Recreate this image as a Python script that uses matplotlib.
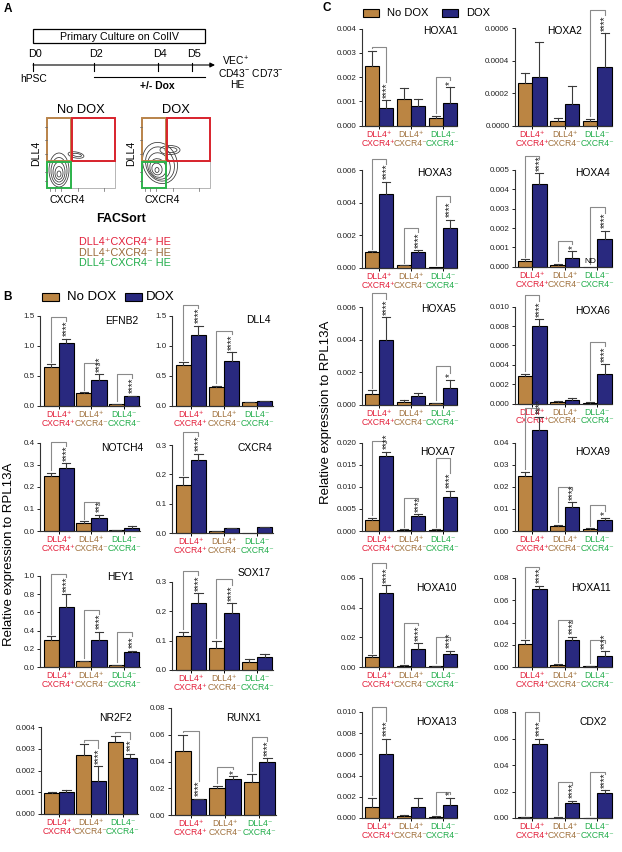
import numpy as np
import matplotlib
matplotlib.use('Agg')
import matplotlib.pyplot as plt
from matplotlib.patches import Rectangle, Ellipse

plt.rcParams['font.family'] = ['Liberation Sans', 'DejaVu Sans']
plt.rcParams['mathtext.fontset'] = 'custom'
plt.rcParams['mathtext.rm'] = 'Liberation Sans'
plt.rcParams['mathtext.it'] = 'Liberation Sans:italic'
plt.rcParams['mathtext.bf'] = 'Liberation Sans:bold'

# ---------------- data ----------------
groups = ['DLL4\u207a\nCXCR4\u207a', 'DLL4\u207a\nCXCR4\u207b', 'DLL4\u207b\nCXCR4\u207b']
series = ['No DOX', 'DOX']

efnb2_nodox = [0.655, 0.21, 0.03];   efnb2_dox = [1.045, 0.44, 0.16]
efnb2_nodox_sem = [0.045, 0.02, 0.005]; efnb2_dox_sem = [0.075, 0.09, 0.012]
efnb2_sig = [(0, 1.48, '****'), (1, 0.72, '****'), (2, 0.53, '****')]
efnb2_ticks = ['0.0', '0.5', '1.0', '1.5']

dll4_nodox = [0.69, 0.31, 0.06];   dll4_dox = [1.18, 0.75, 0.08]
dll4_nodox_sem = [0.04, 0.03, 0.005]; dll4_dox_sem = [0.16, 0.15, 0.005]
dll4_sig = [(0, 1.69, '****'), (1, 1.25, '****')]
dll4_ticks = ['0.0', '0.5', '1.0', '1.5']

notch4_nodox = [0.25, 0.038, 0.005];   notch4_dox = [0.285, 0.061, 0.015]
notch4_nodox_sem = [0.015, 0.006, 0.001]; notch4_dox_sem = [0.022, 0.012, 0.006]
notch4_sig = [(0, 0.405, '****'), (1, 0.13, '***')]
notch4_ticks = ['0.0', '0.1', '0.2', '0.3', '0.4']

cxcr4_nodox = [0.165, 0.006, 0.0];   cxcr4_dox = [0.248, 0.017, 0.02]
cxcr4_nodox_sem = [0.025, 0.002, 0.0]; cxcr4_dox_sem = [0.022, 0.001, 0.002]
cxcr4_sig = [(0, 0.345, '****')]
cxcr4_ticks = ['0.0', '0.1', '0.2', '0.3']

hey1_nodox = [0.30, 0.065, 0.02];   hey1_dox = [0.66, 0.30, 0.16]
hey1_nodox_sem = [0.04, 0.005, 0.003]; hey1_dox_sem = [0.14, 0.09, 0.02]
hey1_sig = [(0, 1.02, '****'), (1, 0.63, '****'), (2, 0.38, '***')]
hey1_ticks = ['0.0', '0.2', '0.4', '0.6', '0.8', '1.0']

sox17_nodox = [0.115, 0.075, 0.026];   sox17_dox = [0.228, 0.194, 0.044]
sox17_nodox_sem = [0.015, 0.025, 0.01]; sox17_dox_sem = [0.034, 0.034, 0.009]
sox17_sig = [(0, 0.336, '****'), (1, 0.31, '****')]
sox17_ticks = ['0.0', '0.1', '0.2', '0.3']

nr2f2_nodox = [0.00097, 0.00273, 0.0033];   nr2f2_dox = [0.00103, 0.0015, 0.00258]
nr2f2_nodox_sem = [0.00004, 0.00047, 0.0003]; nr2f2_dox_sem = [0.00009, 0.0007, 0.00019]
nr2f2_sig = [(1, 0.0034, '****'), (2, 0.00375, '***')]
nr2f2_ticks = ['0.000', '0.001', '0.002', '0.003', '0.004']

runx1_nodox = [0.048, 0.0205, 0.0245];   runx1_dox = [0.0118, 0.0268, 0.0393]
runx1_nodox_sem = [0.012, 0.0015, 0.0065]; runx1_dox_sem = [0.0004, 0.002, 0.003]
runx1_sig = [(0, 0.063, '****'), (1, 0.036, '*'), (2, 0.058, '****')]
runx1_ticks = ['0.00', '0.02', '0.04', '0.06', '0.08']

hoxa1_nodox = [0.00247, 0.00112, 0.00031];   hoxa1_dox = [0.00075, 0.0008, 0.00092]
hoxa1_nodox_sem = [0.00063, 0.00043, 0.00009]; hoxa1_dox_sem = [0.0003, 0.0003, 0.00066]
hoxa1_sig = [(0, 0.00325, '****'), (2, 0.002, '*')]
hoxa1_ticks = ['0.000', '0.001', '0.002', '0.003', '0.004']

hoxa2_nodox = [0.000266, 0.000033, 0.000033];   hoxa2_dox = [0.0003, 0.000137, 0.000364]
hoxa2_nodox_sem = [0.00006, 0.000014, 0.000012]; hoxa2_dox_sem = [0.000218, 0.00011, 0.000205]
hoxa2_sig = [(2, 0.00071, '****')]
hoxa2_ticks = ['0.0000', '0.0002', '0.0004', '0.0006']

hoxa3_nodox = [0.00098, 0.00014, 0.00002];   hoxa3_dox = [0.00451, 0.00098, 0.00245]
hoxa3_nodox_sem = [0.00004, 0.00001, 0.0]; hoxa3_dox_sem = [0.00076, 0.0001, 0.0005]
hoxa3_sig = [(0, 0.0067, '****'), (1, 0.00245, '****'), (2, 0.0044, '****')]
hoxa3_ticks = ['0.000', '0.002', '0.004', '0.006']

hoxa4_nodox = [0.00031, 0.00009, np.nan];   hoxa4_dox = [0.0043, 0.00047, 0.00143]
hoxa4_nodox_sem = [0.00007, 0.00005, 0.0]; hoxa4_dox_sem = [0.00054, 0.00034, 0.00043]
hoxa4_sig = [(0, 0.0057, '****'), (1, 0.00134, '*'), (2, 0.00307, '****')]
hoxa4_ticks = ['0.000', '0.001', '0.002', '0.003', '0.004', '0.005']

hoxa5_nodox = [0.0007, 0.0002, 0.0001];   hoxa5_dox = [0.004, 0.00055, 0.00104]
hoxa5_nodox_sem = [0.0002, 0.0001, 0.00005]; hoxa5_dox_sem = [0.0014, 0.0002, 0.0005]
hoxa5_sig = [(0, 0.0069, '****'), (2, 0.0024, '*')]
hoxa5_ticks = ['0.000', '0.002', '0.004', '0.006']

hoxa6_nodox = [0.0028, 0.0002, 0.0001];   hoxa6_dox = [0.008, 0.0004, 0.00305]
hoxa6_nodox_sem = [0.0003, 0.0001, 0.00005]; hoxa6_dox_sem = [0.0007, 0.0002, 0.001]
hoxa6_sig = [(0, 0.0112, '****'), (2, 0.0064, '****')]
hoxa6_ticks = ['0.000', '0.002', '0.004', '0.006', '0.008', '0.010']

hoxa7_nodox = [0.0025, 0.0003, 0.0003];   hoxa7_dox = [0.017, 0.0033, 0.0077]
hoxa7_nodox_sem = [0.0005, 0.0001, 0.0001]; hoxa7_dox_sem = [0.001, 0.0005, 0.0015]
hoxa7_sig = [(0, 0.0205, '****'), (1, 0.0075, '****'), (2, 0.0165, '****')]
hoxa7_ticks = ['0.000', '0.005', '0.010', '0.015', '0.020']

hoxa9_nodox = [0.025, 0.0025, 0.001];   hoxa9_dox = [0.046, 0.011, 0.005]
hoxa9_nodox_sem = [0.002, 0.0003, 0.0002]; hoxa9_dox_sem = [0.006, 0.002, 0.001]
hoxa9_sig = [(0, 0.056, '****'), (1, 0.02, '****'), (2, 0.012, '*')]
hoxa9_ticks = ['0.00', '0.01', '0.02', '0.03', '0.04']

hoxa10_nodox = [0.007, 0.001, 0.0007];   hoxa10_dox = [0.05, 0.012, 0.009]
hoxa10_nodox_sem = [0.001, 0.0002, 0.0001]; hoxa10_dox_sem = [0.005, 0.004, 0.002]
hoxa10_sig = [(0, 0.07, '****'), (1, 0.03, '****'), (2, 0.02, '****')]
hoxa10_ticks = ['0.00', '0.02', '0.04', '0.06']

hoxa11_nodox = [0.021, 0.002, 0.001];   hoxa11_dox = [0.07, 0.024, 0.01]
hoxa11_nodox_sem = [0.003, 0.0003, 0.0002]; hoxa11_dox_sem = [0.003, 0.003, 0.004]
hoxa11_sig = [(0, 0.09, '****'), (1, 0.042, '****'), (2, 0.024, '****')]
hoxa11_ticks = ['0.00', '0.02', '0.04', '0.06', '0.08']

hoxa13_nodox = [0.001, 0.0002, 0.0001];   hoxa13_dox = [0.006, 0.001, 0.0012]
hoxa13_nodox_sem = [0.0009, 0.0001, 0.00005]; hoxa13_dox_sem = [0.0015, 0.0009, 0.0007]
hoxa13_sig = [(0, 0.0105, '****'), (2, 0.0025, '*')]
hoxa13_ticks = ['0.000', '0.002', '0.004', '0.006', '0.008', '0.010']

cdx2_nodox = [0.0005, 0.0003, 0.0002];   cdx2_dox = [0.056, 0.011, 0.019]
cdx2_nodox_sem = [0.0001, 0.0001, 0.0001]; cdx2_dox_sem = [0.004, 0.002, 0.002]
cdx2_sig = [(0, 0.08, '****'), (1, 0.027, '****'), (2, 0.035, '****')]
cdx2_ticks = ['0.00', '0.02', '0.04', '0.06', '0.08']

sort_labels = ['DLL4\u207aCXCR4\u207a HE', 'DLL4\u207aCXCR4\u207b HE', 'DLL4\u207bCXCR4\u207b HE']

# ---------------- style ----------------
BROWN = '#bb8543'
NAVY = '#29297f'
LBL_COL = ['#e3203b', '#a0713d', '#22ad4b']
GATE_COL = ['#b9834a', '#d8232c', '#2cb34b']
ERR = '#3a3a3a'
BRK = '#8a8a8a'

W, H = 622, 852
fig = plt.figure(figsize=(W / 100, H / 100), dpi=100)
ov = fig.add_axes([0, 0, 1, 1])
ov.set_xlim(0, W)
ov.set_ylim(H, 0)
ov.axis('off')


def chart(rect, xlim, w, title, tpos, nodox, dox, nsem, dsem, ticks, sigs, nd=False):
    x0, x1, yt, yb = rect
    ax = fig.add_axes([x0 / W, 1 - yb / H, (x1 - x0) / W, (yb - yt) / H])
    tickvals = [float(t) for t in ticks]
    ymax = tickvals[-1]
    upp = ymax / (yb - yt)
    x = np.arange(len(groups))
    nodox = np.array(nodox, float)
    dox = np.array(dox, float)
    b1 = ax.bar(x - w / 2, np.nan_to_num(nodox), w, color=BROWN, edgecolor='k', lw=0.8, zorder=2)
    b2 = ax.bar(x + w / 2, dox, w, color=NAVY, edgecolor='k', lw=0.8, zorder=2)
    for p in list(b1) + list(b2):
        p.set_clip_on(False)
    cw = w * 0.28
    for xs, vals, sems in ((x - w / 2, nodox, nsem), (x + w / 2, dox, dsem)):
        for xi, v, e in zip(xs, vals, sems):
            if np.isnan(v) or e <= 0:
                continue
            ax.plot([xi, xi], [v, v + e], color=ERR, lw=0.8, zorder=3, clip_on=False)
            ax.plot([xi - cw, xi + cw], [v + e, v + e], color=ERR, lw=0.8, zorder=3, clip_on=False)
    ntop = np.nan_to_num(nodox) + np.array(nsem)
    dtop = dox + np.array(dsem)
    for g, ybr, st in sigs:
        xa, xb = g - w / 2, g + w / 2
        pad = 2.5 * upp
        slen = len(st) * 3.6 * upp
        y1 = ntop[g] + pad
        y2 = min(dtop[g] + pad + slen + 1.0 * upp, ybr - 2.5 * upp)
        ax.plot([xa, xa, xb, xb], [y1, ybr, ybr, y2], color=BRK, lw=0.8, clip_on=False, zorder=3)
        ax.text(xb + 0.02, dtop[g] + pad, st, rotation=90, ha='center', va='bottom',
                fontsize=7, color='#222222', clip_on=False, zorder=4)
    if nd:
        ax.text(2 - w / 2, 1.5 * upp, 'ND', ha='center', va='bottom', fontsize=6)
    ax.set_xlim(*xlim)
    ax.set_ylim(0, ymax)
    ax.set_yticks(tickvals)
    ax.set_yticklabels(ticks)
    ax.set_xticks(x)
    ax.set_xticklabels([])
    for s in ('top', 'right'):
        ax.spines[s].set_visible(False)
    for s in ('left', 'bottom'):
        ax.spines[s].set_linewidth(0.8)
        ax.spines[s].set_color('#333333')
    ax.tick_params(axis='y', length=2.5, width=0.7, pad=1.5, labelsize=5.8, colors='#222222')
    ax.tick_params(axis='x', length=2, width=0.7)
    ax.patch.set_alpha(0)
    for i, (lab, c) in enumerate(zip(groups, LBL_COL)):
        ax.annotate(lab, xy=(i, 0), xycoords=('data', 'axes fraction'), xytext=(0, -3),
                    textcoords='offset points', ha='center', va='top', fontsize=6.2,
                    color=c, linespacing=0.95, annotation_clip=False)
    ov.text(tpos[0], tpos[1], title, ha='center', va='center', fontsize=7.4)
    return ax


XB, WB = (-0.57, 2.48), 0.46
XC, WC = (-0.53, 2.45), 0.44

chart((40, 140, 316, 406), XB, WB, 'EFNB2', (122, 321), efnb2_nodox, efnb2_dox, efnb2_nodox_sem, efnb2_dox_sem, efnb2_ticks, efnb2_sig)
chart((172, 273, 316, 406), XB, WB, 'DLL4', (258, 320), dll4_nodox, dll4_dox, dll4_nodox_sem, dll4_dox_sem, dll4_ticks, dll4_sig)
chart((40, 140, 443, 531), XB, WB, 'NOTCH4', (122, 448), notch4_nodox, notch4_dox, notch4_nodox_sem, notch4_dox_sem, notch4_ticks, notch4_sig)
chart((172, 273, 445, 533), XB, WB, 'CXCR4', (255, 448), cxcr4_nodox, cxcr4_dox, cxcr4_nodox_sem, cxcr4_dox_sem, cxcr4_ticks, cxcr4_sig)
chart((40, 140, 576, 667), XB, WB, 'HEY1', (120, 577), hey1_nodox, hey1_dox, hey1_nodox_sem, hey1_dox_sem, hey1_ticks, hey1_sig)
chart((172, 273, 582, 670), XB, WB, 'SOX17', (254, 573), sox17_nodox, sox17_dox, sox17_nodox_sem, sox17_dox_sem, sox17_ticks, sox17_sig)
chart((41, 138, 727, 814), XB, WB, 'NR2F2', (115, 718), nr2f2_nodox, nr2f2_dox, nr2f2_nodox_sem, nr2f2_dox_sem, nr2f2_ticks, nr2f2_sig)
chart((171, 276, 708, 815), XB, WB, 'RUNX1', (244, 718), runx1_nodox, runx1_dox, runx1_nodox_sem, runx1_dox_sem, runx1_ticks, runx1_sig)

chart((362, 457, 28.7, 125.7), XC, WC, 'HOXA1', (440, 31), hoxa1_nodox, hoxa1_dox, hoxa1_nodox_sem, hoxa1_dox_sem, hoxa1_ticks, hoxa1_sig)
chart((515, 612, 28.3, 126), XC, WC, 'HOXA2', (565, 31), hoxa2_nodox, hoxa2_dox, hoxa2_nodox_sem, hoxa2_dox_sem, hoxa2_ticks, hoxa2_sig)
chart((362, 457, 170, 267.7), XC, WC, 'HOXA3', (435, 173), hoxa3_nodox, hoxa3_dox, hoxa3_nodox_sem, hoxa3_dox_sem, hoxa3_ticks, hoxa3_sig)
chart((515, 612, 170, 266.7), XC, WC, 'HOXA4', (593, 173), hoxa4_nodox, hoxa4_dox, hoxa4_nodox_sem, hoxa4_dox_sem, hoxa4_ticks, hoxa4_sig, nd=True)
chart((362, 457, 307.3, 405), XC, WC, 'HOXA5', (439, 309), hoxa5_nodox, hoxa5_dox, hoxa5_nodox_sem, hoxa5_dox_sem, hoxa5_ticks, hoxa5_sig)
chart((515, 612, 306.7, 403.6), XC, WC, 'HOXA6', (593, 311), hoxa6_nodox, hoxa6_dox, hoxa6_nodox_sem, hoxa6_dox_sem, hoxa6_ticks, hoxa6_sig)
chart((362, 457, 443, 531), XC, WC, 'HOXA7', (438, 452), hoxa7_nodox, hoxa7_dox, hoxa7_nodox_sem, hoxa7_dox_sem, hoxa7_ticks, hoxa7_sig)
chart((515, 612, 443, 531), XC, WC, 'HOXA9', (593, 452), hoxa9_nodox, hoxa9_dox, hoxa9_nodox_sem, hoxa9_dox_sem, hoxa9_ticks, hoxa9_sig)
chart((362, 457, 578, 667), XC, WC, 'HOXA10', (436, 588), hoxa10_nodox, hoxa10_dox, hoxa10_nodox_sem, hoxa10_dox_sem, hoxa10_ticks, hoxa10_sig)
chart((515, 612, 578, 667), XC, WC, 'HOXA11', (591, 588), hoxa11_nodox, hoxa11_dox, hoxa11_nodox_sem, hoxa11_dox_sem, hoxa11_ticks, hoxa11_sig)
chart((362, 457, 712, 818), XC, WC, 'HOXA13', (436, 722), hoxa13_nodox, hoxa13_dox, hoxa13_nodox_sem, hoxa13_dox_sem, hoxa13_ticks, hoxa13_sig)
chart((515, 612, 712, 818), XC, WC, 'CDX2', (593, 722), cdx2_nodox, cdx2_dox, cdx2_nodox_sem, cdx2_dox_sem, cdx2_ticks, cdx2_sig)

# y labels
ov.text(9, 554, 'Relative expression to RPL13A', rotation=90, ha='center', va='center', fontsize=9.5)
ov.text(326, 412, 'Relative expression to RPL13A', rotation=90, ha='center', va='center', fontsize=9.5)

# panel letters
for lab, (px, py) in zip('ABC', [(8, 9), (7, 297), (327, 8)]):
    ov.text(px, py, lab, ha='center', va='center', fontsize=8.5, fontweight='bold')

# legends
def legend(x_box1, x_txt1, x_box2, x_txt2, yc, bw, bh, fs):
    ov.add_patch(Rectangle((x_box1, yc - bh / 2), bw, bh, facecolor=BROWN, edgecolor='k', lw=0.8))
    ov.text(x_txt1, yc, series[0], ha='left', va='center', fontsize=fs)
    ov.add_patch(Rectangle((x_box2, yc - bh / 2), bw, bh, facecolor=NAVY, edgecolor='k', lw=0.8))
    ov.text(x_txt2, yc, series[1], ha='left', va='center', fontsize=fs)

legend(42, 67, 125, 146, 297, 17, 8, 9.5)
legend(363, 387, 442, 466, 13, 16, 7.5, 8)

# ---------------- panel A schematic ----------------
ov.add_patch(Rectangle((33, 29), 172, 14, facecolor='none', edgecolor='k', lw=0.9))
ov.text(119, 36.5, 'Primary Culture on ColIV', ha='center', va='center', fontsize=7.7)
ov.annotate('', xy=(215, 65), xytext=(33, 65),
            arrowprops=dict(arrowstyle='-|>', lw=0.8, color='k', mutation_scale=7, shrinkA=0, shrinkB=0))
for lab, px in zip(['D0', 'D2', 'D4', 'D5'], [33, 94, 158, 192]):
    ov.plot([px, px], [62.5, 70.5], color='k', lw=0.8)
    ov.text(px + 2, 54, lab, ha='center', va='center', fontsize=7.8)
ov.text(34, 79, 'hPSC', ha='center', va='center', fontsize=7.4)
ov.plot([94, 205], [77, 77], color='k', lw=0.8)
ov.text(157, 86, '+/- Dox', ha='center', va='center', fontsize=7.5, fontweight='bold')
ov.text(222, 61, 'VEC$^{+}$', ha='left', va='center', fontsize=7.4)
ov.text(218, 73, 'CD43$^{-}$ CD73$^{-}$', ha='left', va='center', fontsize=7.4)
ov.text(230, 85, 'HE', ha='left', va='center', fontsize=7.4)

# FACS plots (schematic)
def facs(x0, title, blobs):
    ov.text(x0 + 34, 110, title, ha='center', va='center', fontsize=9.3)
    ov.add_patch(Rectangle((x0 + 24, 161), 44, 27, facecolor='none', edgecolor='#999999', lw=0.5))
    for (cx, cy, ww, hh, ang) in blobs:
        ov.add_patch(Ellipse((cx, cy), ww, hh, angle=ang, facecolor='none', edgecolor='#333333', lw=0.55))
    ov.add_patch(Rectangle((x0, 118), 24, 43, facecolor='none', edgecolor=GATE_COL[0], lw=1.4))
    ov.add_patch(Rectangle((x0 + 24.5, 118), 43.5, 43, facecolor='none', edgecolor=GATE_COL[1], lw=1.4))
    ov.add_patch(Rectangle((x0, 161.5), 24, 26.5, facecolor='none', edgecolor=GATE_COL[2], lw=1.4))
    for yy in [127, 140, 154, 172, 181]:
        ov.plot([x0 - 2.5, x0], [yy, yy], color='#666666', lw=0.5)
    for xx in [x0 + 3, x0 + 8, x0 + 14, x0 + 31, x0 + 57]:
        ov.plot([xx, xx], [188, 190.5], color='#666666', lw=0.5)
    ov.text(x0 - 11, 153, 'DLL4', rotation=90, ha='center', va='center', fontsize=7.6)
    ov.text(x0 + 20, 200, 'CXCR4', ha='center', va='center', fontsize=7.6)

facs(47, 'No DOX', [(59, 170, 20, 34, 0), (59, 171, 16, 27, 0), (59, 172, 12, 20, 0),
                    (59, 173, 8, 13, 0), (59, 174, 4, 6, 0), (76, 155, 16, 6, 10), (77, 155, 9, 3, 10)])
facs(142, 'DOX', [(160, 163, 34, 42, -20), (160, 164, 28, 35, -20), (159, 166, 22, 27, -20),
                  (158, 168, 16, 19, -20), (157, 169, 10, 12, -20), (157, 170, 4, 5, 0),
                  (170, 150, 20, 9, 0), (171, 150, 12, 5, 0)])

ov.text(121, 219, 'FACSort', ha='center', va='center', fontsize=8.9, fontweight='bold')
for i, lab in enumerate(sort_labels):
    ov.text(125, 241.7 + 10.8 * i, lab, ha='center', va='center', fontsize=7.8,
            color=['#e3203b', '#9a6a3a', '#22ad4b'][i])

fig.savefig('out.png', dpi=100)
